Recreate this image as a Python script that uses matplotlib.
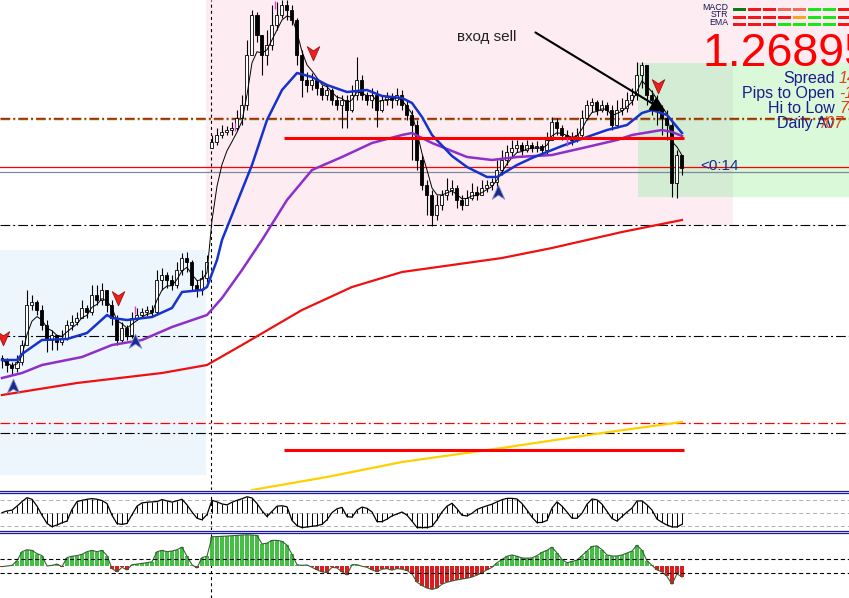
import numpy as np
import pandas as pd
import matplotlib
matplotlib.use("Agg")
import matplotlib.pyplot as plt
from matplotlib.patches import Rectangle
from matplotlib.lines import Line2D
from matplotlib.path import Path

plt.rcParams['font.family'] = ['Liberation Sans', 'DejaVu Sans']
plt.rcParams['lines.scale_dashes'] = False

W, H = 849, 598
BASE = 1.2500   # price arrays below are in pips above this level
PIP = 0.0001

# ---- candles (one per bar, open = previous close) ----
close_pips = [
    93, 90.5, 89, 92, 100.5, 120.5, 122, 118, 110.5, 103,
    105.5, 102, 104, 110.5, 112, 114, 119, 117, 125.5, 123,
    128, 120.5, 114, 103, 109, 105.5, 114, 115.5, 117, 118,
    117, 133, 135.5, 133, 130.5, 138, 144, 142, 130.5, 128,
    134, 142, 202, 205.5, 207, 208, 209, 214, 220.5, 245.5,
    265.5, 255.5, 245.5, 250.5, 260.5, 265.5, 270.5, 268, 263, 245.5,
    233, 230.5, 233, 229, 225.5, 228, 223, 220.5, 223, 218,
    225.5, 233, 225.5, 223, 225.5, 218, 223, 224.5, 223, 225.5,
    220.5, 215.5, 210.5, 193, 180.5, 175.5, 165.5, 170.5, 175.5, 178,
    179, 173, 170.5, 174, 177, 175.5, 179, 180.5, 182, 188,
    193, 197, 199, 200.5, 198, 200.5, 199, 200, 198, 203,
    212, 209, 205.5, 204, 203, 205.5, 214, 220.5, 222, 218,
    220.5, 218, 210.5, 218, 219, 223, 225.5, 235.5, 240.5, 225.5,
    223, 218, 214, 210.5, 181.5, 195.5, 189]
high_pips = [
    95.5, 94, 92, 95.5, 103, 128, 125.5, 123, 120.5, 113,
    108, 105.5, 108, 113, 115.5, 117, 123, 120.5, 130.5, 130.5,
    131.5, 128, 123, 115.5, 112, 110.5, 117, 119, 119, 120,
    120.5, 138, 139, 137, 135.5, 142, 146.5, 147, 143, 133,
    138, 145.5, 205.5, 209, 210.5, 210, 212, 218, 225.5, 253,
    268, 267, 255.5, 258, 270.5, 272, 273, 273, 270.5, 264,
    248, 237, 236.5, 234, 230.5, 230.5, 229, 225.5, 225.5, 225.5,
    230.5, 244.5, 235.5, 227, 229, 228, 225.5, 227, 226.5, 229,
    228, 223, 218, 213, 195.5, 183, 178, 175.5, 178, 184,
    183, 180.5, 175.5, 178, 181.5, 180, 183, 183, 184, 193,
    198, 200.5, 203, 203, 202, 203, 202, 202.5, 201, 207,
    214.5, 214, 210.5, 208, 207, 209, 218, 223, 224, 223,
    223, 222, 220.5, 223, 224, 227, 229, 242, 242, 240.5,
    228, 225.5, 220.5, 218, 213, 198, 193]
low_pips = [
    89, 87, 85.5, 87, 90.5, 100.5, 118, 115.5, 108, 97,
    98, 98, 100.5, 103, 108, 110.5, 114, 114, 115.5, 120.5,
    120.5, 117, 110.5, 100.5, 102, 103, 104, 113, 114, 115,
    115, 115.5, 128, 129, 128, 129, 135.5, 137, 128, 124.5,
    125.5, 132, 199, 200.5, 204, 205.5, 205.5, 208, 210.5, 218,
    245.5, 252, 235.5, 240.5, 248, 258, 264, 263, 260.5, 240.5,
    224.5, 227, 228, 225.5, 223, 223, 220.5, 218, 209, 209,
    217, 223, 223, 220.5, 219, 209.5, 217, 220.5, 219, 220.5,
    218, 213, 193, 188, 178, 165.5, 160, 163, 168, 173,
    175.5, 169, 168, 170.5, 173, 173, 175.5, 177, 178, 178,
    185.5, 190.5, 194, 197, 195.5, 197, 197, 197, 196, 195.5,
    203, 205.5, 203, 202, 200.5, 202, 204, 213, 217, 215.5,
    217, 215.5, 208, 209, 215.5, 217, 220.5, 223, 229, 220.5,
    215.5, 210.5, 205.5, 203, 174.5, 174, 185.5]
first_open = 94
gap_bar, gap_open = 42, 199   # weekend gap

# ---- moving averages (bar, pips) ----
blue_ma_bars = [0, 3, 4, 8, 13, 17, 21, 22, 25, 30, 34, 36, 40, 41, 43, 44, 50, 53, 56, 59,
                62, 65, 69, 73, 76, 80, 82, 84, 86, 90, 93, 97, 99, 103, 106, 112, 117, 121,
                125, 128, 130, 133, 136]
blue_ma_pips = [93, 93, 96, 103, 103.5, 106.5, 115.5, 114, 113, 114.5, 119, 127, 128, 129.5,
                143, 153, 190.5, 213, 228, 236.5, 234.5, 230.5, 227, 228, 225, 224, 221.5,
                214.5, 205.5, 195, 189.5, 184.5, 184.5, 190.5, 194, 200, 204.5, 208, 210.5,
                216.5, 218, 215.5, 206.5]
purple_ma_bars = [0, 4, 8, 16, 22, 28, 34, 41, 44, 48, 52, 57, 62, 68, 74, 80, 82, 86, 93, 98,
                  103, 110, 117, 123, 126, 132, 134, 136]
purple_ma_pips = [84, 86.5, 90.5, 94.5, 100.5, 103, 109.5, 115.5, 124, 138, 153, 173, 188,
                  194.5, 201.5, 205.5, 206.5, 201.5, 194.5, 193, 194.5, 195.5, 199.5, 203,
                  205.5, 208, 207, 205]
red_ma_bars = [0, 15, 32, 41, 48, 60, 70, 80, 90, 100, 110, 124, 136]
red_ma_pips = [75.5, 81.5, 86.5, 90.5, 100.5, 118, 129.5, 137, 140.5, 144, 149, 157, 163]
yellow_ma_bars = [50, 65, 80, 100, 120, 136]
yellow_ma_pips = [28, 34.5, 42, 49, 56.5, 62]

# ---- horizontal levels (pips) ----
bid_pips, ask_pips = 189.5, 187
redgreen_level = 214
black_levels = [160.5, 105, 56.5]
red_dash_level = 61.5
target_levels = [204, 48]
target_from, target_to = 56.4, 136.4
session_bar = 41.8

# ---- shaded zones: bar0, bar1, pips0, pips1, colour ----
zones = [(-0.4, 40.8, 35.5, 148, '#edf5fd'),
         (40.8, 146.2, 160.5, 273, '#fdedf2'),
         (146.2, 169.4, 241.5, 273, '#fdedf2'),
         (127.2, 146.2, 174.5, 241.5, '#d4ebd4'),
         (146.2, 169.4, 174.5, 241.5, '#d9f9d9')]

# ---- signals ----
sell_bars, sell_pips = [0.2, 23.2, 62.2, 131.2], [104.5, 124.5, 247, 230.5]
buy_bars, buy_pips = [2.2, 26.6, 99.2], [79.5, 102, 176.5]
mark_bars, mark_pips = [26.6, 46.6, 54.6, 113], [118, 209.5, 270.5, 202]
entry_from, entry_to = (106.2, 257.5), (133.2, 216.5)
entry_text_at = (91, 254.5)

# ---- lower panels ----
osc = [5, 18, 24, 55, 90, 120, 108, 55, -15, -78,
       -103, -90, -73, -60, 30, 90, 100, 108, 113, 108,
       98, 75, -15, -80, -85, -78, -10, 55, 80, 85,
       88, 90, 106, 95, 86, 96, 108, 65, 10, -38,
       -50, -10, 100, 88, 72, 65, 85, 100, 112, 127,
       118, 75, 20, -25, 15, 55, 58, 50, -55, -95,
       -110, -105, -100, -95, -85, -50, 5, 35, 45, -25,
       -30, 25, 48, 38, 10, -64, -64, -45, -20, -5,
       10, -15, -60, -110, -110, -110, -100, -50, 10, 55,
       77, 35, -15, -20, 0, 30, 45, 58, 70, 88,
       105, 115, 115, 110, 75, 25, -30, -72, -70, -55,
       40, 88, 55, 10, -38, -38, 0, 70, 110, 104,
       70, 15, -40, -60, -25, 10, 40, 95, 95, 65,
       25, -45, -70, -90, -105, -105, -85]
hist = [-0.5, 0, 0.5, 4, 11, 12.5, 12, 9.5, 8, 0,
        0.5, 1.5, -0.5, 6.5, 7.5, 8, 9, 11, 12, 11,
        12, 8, -2, -4.5, -1, -3, 1, 1.5, 2, 2.6,
        3.2, 11, 12, 11, 11.5, 12.5, 14.5, 7.5, 1, -1.5,
        6.5, 7.5, 22.5, 22.6, 22.8, 23, 23.3, 23.5, 23.8, 24,
        23.8, 23.5, 17, 17.5, 19.7, 19.7, 19, 16, 9, 1,
        0.5, 0.8, -1, -3, -4.5, -5, -1, -1.5, -4.5, -6.9,
        1, 1, -0.2, -1, -3, -4.4, -2.5, -2, -3.2, -2,
        -2.5, -3.5, -6, -12.5, -15, -17, -18, -17, -14, -12.5,
        -11.5, -10.7, -10, -9.4, -8.5, -7, -5, -3, -1, 2.5,
        5, 7.5, 8.5, 7.5, 6.2, 6, 6.3, 8, 10.5, 12,
        14.5, 10, 5, 2.5, 3.5, 4.5, 8, 11.5, 15, 15.5,
        12.5, 8.5, 7.7, 7.7, 8.5, 10, 11.5, 16, 12, 4,
        0.5, -3, -4.5, -8, -14, -6, -8.5]

# ---- info panel ----
sig_rows = ['MACD', 'STR', 'EMA']
R, G, DG, SA, OR = '#f01818', '#18e818', '#0f7a0f', '#f06a5a', '#f5a623'
sig_colors = [[DG, R, R, SA, SA, G, G, R],
              [R, R, R, R, OR, G, G, R],
              [R, R, R, G, G, G, G, R]]
price_text = '1.26895'
info_labels = ['Spread', 'Pips to Open', 'Hi to Low', 'Daily Av']
info_values = ['14', '-1', '74', '/07']
timer_text = '<0:14'


def price(p):
    return BASE + np.asarray(p, dtype=float) * PIP


def fig_xy(x, y):
    return x / W, 1 - y / H


DASHDOT = (0, (7, 2.2, 1.4, 2.2))
XLIM = (-0.4, 169.4)

fig = plt.figure(figsize=(W / 100, H / 100), dpi=100)
ax = fig.add_axes([0, 108 / H, 1, 490 / H])
ax_osc = fig.add_axes([0, 68 / H, 1, 36 / H])
ax_hist = fig.add_axes([0, 0, 1, 64 / H])
for a in (ax, ax_osc, ax_hist):
    a.set_xlim(*XLIM)
    a.axis('off')
    a.axvline(session_bar, color='black', lw=0.8, ls=(0, (2.2, 2.2)), zorder=1)
ax.set_ylim(price(28), price(273))

# zones
for b0, b1, p0, p1, col in zones:
    ax.add_patch(Rectangle((b0, price(p0)), b1 - b0, price(p1) - price(p0),
                           facecolor=col, edgecolor='none', zorder=0))

# levels
ax.axhline(price(redgreen_level - 0.5), color='#1aa01a', lw=1, ls=DASHDOT, zorder=1)
ax.axhline(price(redgreen_level), color='#ff0000', lw=1, ls=DASHDOT, zorder=1.1)
for lv in black_levels:
    ax.axhline(price(lv), color='black', lw=0.8, ls=DASHDOT, zorder=1)
ax.axhline(price(red_dash_level), color='#ff0000', lw=0.9, ls=DASHDOT, zorder=1)
ax.axhline(price(bid_pips), color='#ff0000', lw=0.9, zorder=1)
ax.axhline(price(ask_pips), color='#7f8a99', lw=0.9, zorder=1)

# candles
bars = np.arange(len(close_pips))
closes = price(close_pips)
opens = np.r_[price(first_open), closes[:-1]]
opens[gap_bar] = price(gap_open)
highs = np.maximum(price(high_pips), np.maximum(opens, closes))
lows = np.minimum(price(low_pips), np.minimum(opens, closes))
body_lo = np.minimum(opens, closes)
body_h = np.maximum(np.abs(closes - opens), 0.15 * PIP)
ax.vlines(bars, lows, highs, color='black', lw=0.8, zorder=3)
ax.bar(bars, body_h, bottom=body_lo, width=0.6,
       color=np.where(closes >= opens, 'white', 'black'),
       edgecolor='black', linewidth=0.6, zorder=3.2)

# moving averages
fast = pd.Series(closes).ewm(span=4).mean()
ax.plot(bars, fast, color='black', lw=0.7, zorder=3.5)
ax.plot(yellow_ma_bars, price(yellow_ma_pips), color='#ffd000', lw=1.6, zorder=4)
ax.plot(red_ma_bars, price(red_ma_pips), color='#ee1111', lw=1.6, zorder=4)
ax.plot(purple_ma_bars, price(purple_ma_pips), color='#8e2fc8', lw=1.8, zorder=4)
ax.plot(blue_ma_bars, price(blue_ma_pips), color='#1533cc', lw=1.8, zorder=4.1)
ax.hlines(price(target_levels), target_from, target_to, colors='#ff0000', lw=2.2, zorder=4.2)

# signal arrows
sell_marker = Path([(0, -1), (-0.75, 0.7), (0, 0.2), (0.75, 0.7), (0, -1)],
                   [Path.MOVETO, Path.LINETO, Path.LINETO, Path.LINETO, Path.CLOSEPOLY])
buy_marker = Path([(0, 1), (-0.75, -0.7), (0, -0.2), (0.75, -0.7), (0, 1)],
                  [Path.MOVETO, Path.LINETO, Path.LINETO, Path.LINETO, Path.CLOSEPOLY])
ax.plot(sell_bars, price(sell_pips), ls='none', marker=sell_marker, ms=12,
        mfc='#ee2020', mec='#a01010', mew=0.6, zorder=5)
ax.plot(buy_bars, price(buy_pips), ls='none', marker=buy_marker, ms=12,
        mfc='#1d2a8a', mec='#8090d0', mew=0.6, zorder=5)
ax.plot(mark_bars, price(mark_pips), ls='none', marker='|', ms=6, mew=1,
        color='#e040e0', zorder=5)

# entry annotation
ax.annotate('', xy=(entry_to[0], price(entry_to[1])),
            xytext=(entry_from[0], price(entry_from[1])),
            arrowprops=dict(arrowstyle='-|>', color='black', lw=1.5, mutation_scale=22),
            zorder=6)
ax.text(entry_text_at[0], price(entry_text_at[1]), 'вход sell', fontsize=11,
        color='#222222', ha='left', va='center', zorder=6)

# oscillator panel
for lv in (100, 0, -100):
    ax_osc.axhline(lv, color='#b0b0b0', lw=0.7, ls=(0, (3, 2)), zorder=1)
ax_osc.set_ylim(-128.5, 148.5)
osc_bars = np.arange(len(osc))
ax_osc.vlines(osc_bars, 0, osc, color='black', lw=0.7, zorder=2)
ax_osc.plot(osc_bars, osc, color='black', lw=0.9, zorder=3)

# histogram panel
ax_hist.set_ylim(-24.6, 24.6)
hist_bars = np.arange(len(hist))
hv = np.array(hist)
ax_hist.bar(hist_bars, hv, width=0.78, color=np.where(hv >= 0, '#46bf46', '#d81e1e'),
            edgecolor='none', zorder=2)
ax_hist.plot(hist_bars, hv, color='#3a5e3a', lw=0.8, zorder=3)
for lv in (5, -5):
    ax_hist.axhline(lv, color='black', lw=0.8, ls=(0, (3, 2)), zorder=4)

# panel separators
for y in (491, 493, 531, 533):
    fig.add_artist(Line2D([0, 1], [1 - y / H] * 2, transform=fig.transFigure,
                          color='#1a1a9a', lw=0.9))

# info panel (top right)
ax_sig = fig.add_axes([733 / W, 1 - 30 / H, (W - 733) / W, 30 / H])
ax_sig.set_xlim(0, (W - 733) / 15)
ax_sig.set_ylim(2.71, -1.29)
ax_sig.axis('off')
for r, (name, cols) in enumerate(zip(sig_rows, sig_colors)):
    ax_sig.barh(r, 0.87, left=np.arange(len(cols)), height=0.42, color=cols)
    ax_sig.text(-0.33, r - 0.3, name, fontsize=6.3, color='#161650',
                ha='right', va='center')

fig.text(*fig_xy(702, 66), price_text, fontsize=33.5, color='#ff0000',
         ha='left', va='baseline')
for k, (lab, val) in enumerate(zip(info_labels, info_values)):
    base_y = 83 + 15 * k
    fig.text(*fig_xy(835, base_y), lab, fontsize=11.5, color='#1c1c8c',
             ha='right', va='baseline')
    vx = 822 if k == 3 else 839
    fig.text(*fig_xy(vx, base_y), val, fontsize=11.5, color='#e0401a',
             ha='left', va='baseline', style='italic')
fig.text(*fig_xy(700, 166), timer_text, fontsize=11, color='#1c2c8c',
         ha='left', va='center')

fig.savefig('out.png', dpi=100)
